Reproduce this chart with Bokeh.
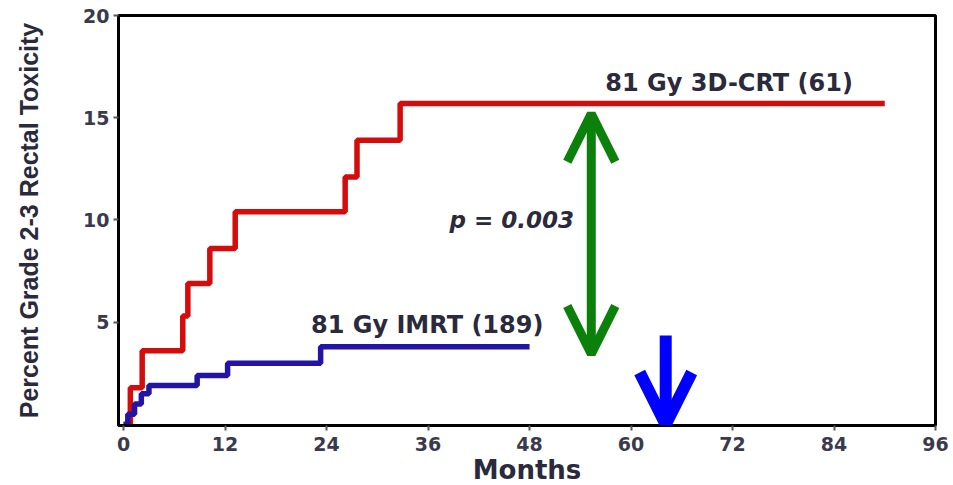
from bokeh.plotting import figure
from bokeh.models import FixedTicker, Arrow, OpenHead, Range1d, ColumnDataSource
from bokeh.core.properties import value
from bokeh.embed import file_html
from bokeh.resources import INLINE

# ---- data ----
crt_months = [0, 0.8, 2.2, 7.0, 7.6, 10.2, 13.2, 26.2, 27.6, 32.7, 90.0]
crt_percent = [0, 1.8, 3.6, 5.3, 6.9, 8.6, 10.4, 12.1, 13.9, 15.7, 15.7]

imrt_months = [0, 0.5, 1.3, 2.1, 3.0, 8.7, 12.3, 23.3, 48.0]
imrt_percent = [0, 0.5, 1.0, 1.5, 1.9, 2.4, 3.0, 3.8, 3.8]

x_ticks = [0, 12, 24, 36, 48, 60, 72, 84, 96]
x_tick_labels = ["0", "12", "24", "36", "48", "60", "72", "84", "96"]
y_ticks = [5, 10, 15, 20]
y_tick_labels = ["5", "10", "15", "20"]

label_texts = ["81 Gy 3D-CRT (61)", "81 Gy IMRT (189)"]
label_x = [71.6, 35.9]
label_y = [16.7, 4.85]

p_text = ["p = 0.003"]
p_x = [45.9]
p_y = [10.0]

# arrows (data coordinates)
diff_arrow_x = 55.3
diff_arrow_top = 15.2
diff_arrow_bottom = 3.45
marker_arrow_x = 64.1
marker_arrow_top = 4.35
marker_arrow_tip = 0.0

TEXT = "#2a2a3c"

p = figure(
    frame_width=817, frame_height=410,
    min_border_left=118, min_border_right=15, min_border_top=15, min_border_bottom=58,
    x_range=Range1d(-0.6, 96), y_range=Range1d(-0.05, 20),
    output_backend="svg", toolbar_location=None,
    background_fill_color="white", border_fill_color="white",
)
p.grid.visible = False
p.outline_line_color = "black"
p.outline_line_width = 3

p.step(crt_months, crt_percent, mode="after", line_color="#d40c0c", line_width=5.5)
p.step(imrt_months, imrt_percent, mode="after", line_color="#2314a6", line_width=5.5)

# axes
p.xaxis.ticker = FixedTicker(ticks=x_ticks)
p.xaxis.major_label_overrides = {t: l for t, l in zip(x_ticks, x_tick_labels)}
p.yaxis.ticker = FixedTicker(ticks=y_ticks)
p.yaxis.major_label_overrides = {t: l for t, l in zip(y_ticks, y_tick_labels)}
for ax in (p.xaxis, p.yaxis):
    ax.axis_line_color = "black"
    ax.axis_line_width = 3
    ax.major_tick_line_color = "#555566"
    ax.major_tick_line_width = 2
    ax.major_tick_out = 5
    ax.major_tick_in = 0
    ax.minor_tick_line_color = None
    ax.major_label_text_font = "DejaVu Sans"
    ax.major_label_text_font_style = "bold"
    ax.major_label_text_font_size = "19px"
    ax.major_label_text_color = "#3a3a4c"
    ax.axis_label_text_font_style = "bold"
    ax.axis_label_text_color = TEXT

p.xaxis.major_label_standoff = 6
p.yaxis.major_label_standoff = 4
p.xaxis.axis_label = "Months"
p.xaxis.axis_label_text_font = "DejaVu Sans"
p.xaxis.axis_label_text_font_size = "26px"
p.xaxis.axis_label_standoff = 1
p.yaxis.axis_label = "Percent Grade 2-3 Rectal Toxicity"
p.yaxis.axis_label_text_font = "Liberation Sans"
p.yaxis.axis_label_text_font_size = "25px"
p.yaxis.axis_label_standoff = 37

# labels
src = ColumnDataSource(dict(x=label_x, y=label_y, t=label_texts))
p.text(x="x", y="y", text="t", source=src, text_font=value("DejaVu Sans"),
       text_font_style="bold", text_font_size="24px", text_color=TEXT,
       text_align="center", text_baseline="middle")
p.text(x=p_x, y=p_y, text=p_text, text_font=value("DejaVu Sans"),
       text_font_style="bold italic", text_font_size="23px", text_color=TEXT,
       text_align="center", text_baseline="middle")

# arrows
p.add_layout(Arrow(
    x_start=diff_arrow_x, y_start=diff_arrow_bottom, x_end=diff_arrow_x, y_end=diff_arrow_top,
    line_color="#0b800b", line_width=9,
    start=OpenHead(size=48, line_color="#0b800b", line_width=9),
    end=OpenHead(size=48, line_color="#0b800b", line_width=9),
))
p.add_layout(Arrow(
    x_start=marker_arrow_x, y_start=marker_arrow_top, x_end=marker_arrow_x, y_end=marker_arrow_tip,
    line_color="#0000ff", line_width=12,
    end=OpenHead(size=52, line_color="#0000ff", line_width=12),
))

open("out.html", "w").write(file_html(p, INLINE))
